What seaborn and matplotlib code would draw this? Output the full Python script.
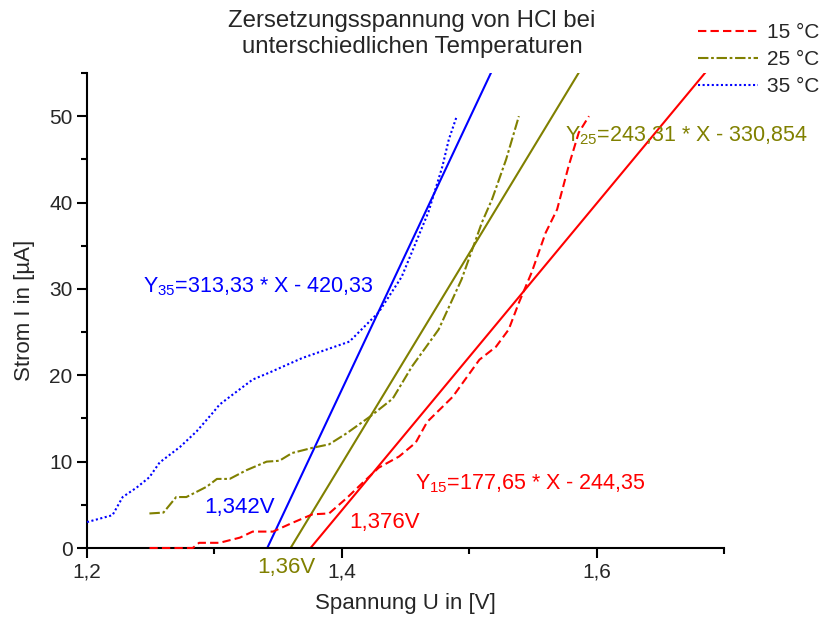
import numpy as np
import pandas as pd
import matplotlib
matplotlib.use("Agg")
import matplotlib.pyplot as plt
from matplotlib.ticker import FixedLocator, FixedFormatter, MultipleLocator
import seaborn as sns

# ---- data ----
x15 = [1.249, 1.283, 1.288, 1.304, 1.320, 1.330, 1.346, 1.361, 1.377, 1.390, 1.404, 1.416, 1.429,
       1.445, 1.458, 1.467, 1.487, 1.508, 1.521, 1.531, 1.539, 1.549, 1.560, 1.569, 1.578, 1.586, 1.594]
y15 = [0.0, 0.0, 0.6, 0.6, 1.2, 1.9, 1.9, 2.9, 3.9, 4.0, 5.8, 7.5, 9.3,
       10.6, 12.2, 14.6, 17.5, 21.8, 23.3, 25.3, 28.4, 31.9, 36.5, 39.2, 44.2, 48.1, 50.0]

x25 = [1.249, 1.260, 1.270, 1.278, 1.294, 1.302, 1.312, 1.325, 1.341, 1.351, 1.361, 1.377, 1.390,
       1.404, 1.422, 1.440, 1.455, 1.476, 1.494, 1.510, 1.518, 1.529, 1.539]
y25 = [4.0, 4.1, 5.9, 5.9, 7.1, 8.0, 8.0, 9.0, 10.0, 10.1, 11.0, 11.6, 12.0,
       13.3, 15.2, 17.3, 21.0, 25.3, 31.1, 37.7, 40.4, 45.0, 50.0]

x35 = [1.200, 1.220, 1.228, 1.239, 1.249, 1.257, 1.273, 1.286, 1.299, 1.304, 1.312, 1.330, 1.343,
       1.369, 1.406, 1.429, 1.447, 1.468, 1.479, 1.484, 1.490]
y35 = [3.0, 3.8, 5.9, 7.0, 8.2, 9.9, 11.7, 13.5, 15.7, 16.6, 17.5, 19.5, 20.3,
       22.0, 23.9, 27.3, 31.4, 38.9, 44.2, 47.3, 49.9]

series_labels = ["15 °C", "25 °C", "35 °C"]
fit_slopes = [177.65, 243.31, 313.33]
fit_intercepts = [-244.35, -330.854, -420.33]
fit_texts = [r"Y$_{15}$=177,65 * X - 244,35",
             r"Y$_{25}$=243,31 * X - 330,854",
             r"Y$_{35}$=313,33 * X - 420,33"]
threshold_texts = ["1,376V", "1,36V", "1,342V"]

xtick_vals = [1.2, 1.4, 1.6]
xtick_labels = ["1,2", "1,4", "1,6"]
ytick_vals = [0, 10, 20, 30, 40, 50]
ytick_labels = ["0", "10", "20", "30", "40", "50"]

# ---- style ----
sns.set_style("ticks")
plt.rcParams["font.family"] = ["Liberation Sans", "DejaVu Sans"]
plt.rcParams["mathtext.fontset"] = "custom"
plt.rcParams["mathtext.rm"] = "Liberation Sans"
plt.rcParams["mathtext.it"] = "Liberation Sans"

colors = ["#ff0000", "#808000", "#0000ff"]
dashes = [(0, (4, 2)), (0, (5, 1.3, 1.3, 1.3)), (0, (1, 1.2))]

fig = plt.figure(figsize=(8.23, 6.28), dpi=100)
ax = fig.add_axes([87 / 823, 1 - 548 / 628, (724 - 87) / 823, (548 - 73) / 628])

xs = [x15, x25, x35]
ys = [y15, y25, y35]
handles = []
for i in range(3):
    df = pd.DataFrame({"x": xs[i], "y": ys[i]})
    sns.lineplot(data=df, x="x", y="y", ax=ax, color=colors[i], linestyle=dashes[i],
                 linewidth=1.5, estimator=None, sort=False, label=series_labels[i])
    ln = ax.lines[-1]
    ln.set_zorder(3)
    ln.set_clip_on(False)
    handles.append(ln)

# fit lines from the zero crossing upward
for i in range(3):
    x0 = -fit_intercepts[i] / fit_slopes[i]
    xl = np.array([x0, 1.72])
    df = pd.DataFrame({"x": xl, "y": fit_slopes[i] * xl + fit_intercepts[i]})
    sns.lineplot(data=df, x="x", y="y", ax=ax, color=colors[i], linewidth=1.5,
                 estimator=None, sort=False, label="_nolegend_")

ax.set_xlim(1.2, 1.7)
ax.set_ylim(0, 55)
ax.xaxis.set_major_locator(FixedLocator(xtick_vals))
ax.xaxis.set_major_formatter(FixedFormatter(xtick_labels))
ax.xaxis.set_minor_locator(MultipleLocator(0.1))
ax.yaxis.set_major_locator(FixedLocator(ytick_vals))
ax.yaxis.set_major_formatter(FixedFormatter(ytick_labels))
ax.yaxis.set_minor_locator(MultipleLocator(5))
ax.tick_params(axis="both", which="major", length=7, width=1.5, labelsize=15, direction="out", color="black")
ax.tick_params(axis="both", which="minor", length=4, width=1.5, direction="out", color="black")
for s in ["top", "right"]:
    ax.spines[s].set_visible(False)
for s in ["left", "bottom"]:
    ax.spines[s].set_linewidth(1.5)
    ax.spines[s].set_color("black")

ax.set_xlabel("Spannung U in [V]", fontsize=16)
ax.set_ylabel("Strom I in [µA]", fontsize=16)
ax.xaxis.labelpad = 8
ax.yaxis.labelpad = 10

fig.text(412 / 823, 1 - 34 / 628, "Zersetzungsspannung von HCl bei\nunterschiedlichen Temperaturen",
         ha="center", va="center", fontsize=17.3, linespacing=1.2)

# equations
ax.text(1.4575, 6.73, fit_texts[0], color=colors[0], fontsize=15.5, ha="left", va="baseline")
ax.text(1.575, 47.1, fit_texts[1], color=colors[1], fontsize=15.5, ha="left", va="baseline", clip_on=False)
ax.text(1.2438, 29.6, fit_texts[2], color=colors[2], fontsize=15.5, ha="left", va="baseline")

# threshold voltages
ax.text(1.4333, 2.9, threshold_texts[0], color=colors[0], fontsize=16, ha="center", va="center")
ax.text(1.3566, -2.2, threshold_texts[1], color=colors[1], fontsize=16, ha="center", va="center", clip_on=False)
ax.text(1.3198, 4.64, threshold_texts[2], color=colors[2], fontsize=16, ha="center", va="center")

leg = ax.legend(handles=handles, labels=series_labels, loc="upper left",
                bbox_to_anchor=(698 / 823, 1 - 23 / 628), bbox_transform=fig.transFigure,
                frameon=False, fontsize=15, handlelength=2.9, handletextpad=0.4,
                labelspacing=0.38, borderpad=0, borderaxespad=0)

fig.savefig("out.png", dpi=100)
